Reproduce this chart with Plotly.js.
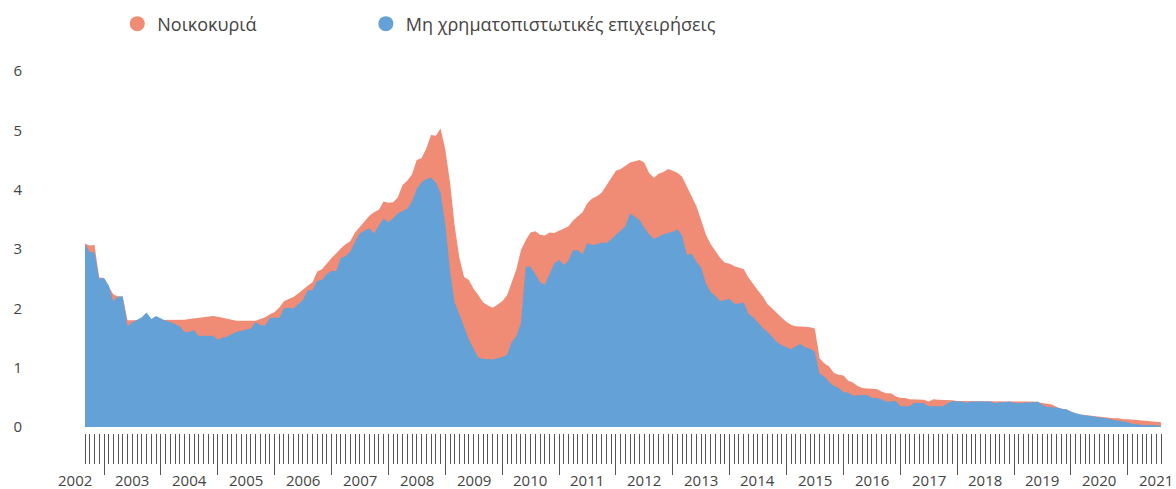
<!DOCTYPE html>
<html>
<head>
<meta charset="utf-8">
<script src="https://cdn.plot.ly/plotly-3.0.1.min.js"></script>
<style>
  html, body { margin: 0; padding: 0; background: #ffffff; }
  #chart { width: 1176px; height: 489px; }
</style>
</head>
<body>
<div id="chart"></div>
<script>
// Monthly series, first month September 2002
const startYear = 2002;
const startMonth = 9;

const seriesNames = ['Νοικοκυριά', 'Μη χρηματοπιστωτικές επιχειρήσεις'];

const households = [
  3.09, 3.06, 3.07, 2.52, 2.51, 2.38, 2.24, 2.20, 2.20, 1.80,
  1.80, 1.80, 1.80, 1.80, 1.80, 1.80, 1.80, 1.80, 1.80, 1.80,
  1.80, 1.81, 1.82, 1.83, 1.84, 1.86, 1.87, 1.87, 1.86, 1.84,
  1.82, 1.80, 1.79, 1.79, 1.79, 1.79, 1.79, 1.82, 1.85, 1.90,
  1.94, 2.02, 2.12, 2.16, 2.19, 2.25, 2.32, 2.38, 2.44, 2.62,
  2.66, 2.76, 2.85, 2.93, 3.01, 3.08, 3.13, 3.28, 3.37, 3.46,
  3.56, 3.62, 3.66, 3.80, 3.78, 3.79, 3.87, 4.08, 4.15, 4.26,
  4.50, 4.53, 4.70, 4.92, 4.91, 5.03, 4.67, 4.10, 3.40, 2.85,
  2.53, 2.48, 2.33, 2.22, 2.10, 2.05, 2.01, 2.06, 2.12, 2.22,
  2.42, 2.65, 2.98, 3.15, 3.28, 3.30, 3.24, 3.23, 3.28, 3.27,
  3.31, 3.35, 3.38, 3.48, 3.55, 3.62, 3.77, 3.85, 3.89, 3.95,
  4.07, 4.20, 4.32, 4.35, 4.41, 4.46, 4.48, 4.50, 4.46, 4.28,
  4.20, 4.27, 4.30, 4.35, 4.32, 4.28, 4.22, 4.06, 3.90, 3.72,
  3.49, 3.24, 3.08, 2.97, 2.85, 2.77, 2.75, 2.71, 2.69, 2.66,
  2.52, 2.40, 2.30, 2.20, 2.07, 2.00, 1.91, 1.84, 1.77, 1.72,
  1.70, 1.70, 1.69, 1.68, 1.66, 1.16, 1.07, 1.02, 0.91, 0.88,
  0.87, 0.78, 0.75, 0.69, 0.66, 0.65, 0.65, 0.64, 0.60, 0.57,
  0.57, 0.52, 0.49, 0.49, 0.47, 0.47, 0.47, 0.46, 0.43, 0.47,
  0.46, 0.46, 0.46, 0.45, 0.44, 0.44, 0.43, 0.44, 0.44, 0.44,
  0.44, 0.44, 0.43, 0.43, 0.43, 0.43, 0.43, 0.44, 0.43, 0.43,
  0.43, 0.42, 0.41, 0.40, 0.38, 0.34, 0.31, 0.30, 0.26, 0.23,
  0.21, 0.20, 0.20, 0.19, 0.18, 0.17, 0.16, 0.15, 0.15, 0.13,
  0.13, 0.13, 0.12, 0.11, 0.10, 0.09, 0.09, 0.08
];

const corporations = [
  3.09, 2.95, 2.94, 2.50, 2.51, 2.38, 2.12, 2.20, 2.20, 1.70,
  1.76, 1.81, 1.85, 1.93, 1.82, 1.87, 1.83, 1.79, 1.77, 1.74,
  1.70, 1.60, 1.60, 1.63, 1.53, 1.54, 1.54, 1.54, 1.47, 1.51,
  1.52, 1.57, 1.60, 1.62, 1.64, 1.66, 1.77, 1.72, 1.71, 1.84,
  1.84, 1.84, 2.00, 2.01, 2.00, 2.08, 2.14, 2.30, 2.31, 2.46,
  2.48, 2.58, 2.63, 2.63, 2.85, 2.88, 2.96, 3.12, 3.26, 3.31,
  3.35, 3.26, 3.40, 3.51, 3.45, 3.52, 3.60, 3.64, 3.68, 3.80,
  4.01, 4.12, 4.18, 4.20, 4.12, 3.95, 3.41, 2.60, 2.10, 1.90,
  1.69, 1.47, 1.32, 1.17, 1.15, 1.14, 1.14, 1.16, 1.18, 1.22,
  1.42, 1.53, 1.75, 2.70, 2.70, 2.58, 2.44, 2.40, 2.58, 2.75,
  2.82, 2.73, 2.80, 2.98, 2.98, 2.91, 3.10, 3.07, 3.08, 3.11,
  3.10, 3.16, 3.24, 3.31, 3.38, 3.60, 3.54, 3.49, 3.36, 3.25,
  3.17, 3.21, 3.25, 3.27, 3.29, 3.33, 3.22, 2.90, 2.92, 2.78,
  2.69, 2.42, 2.27, 2.21, 2.12, 2.14, 2.16, 2.08, 2.08, 2.10,
  1.91, 1.85, 1.76, 1.67, 1.60, 1.51, 1.43, 1.38, 1.34, 1.31,
  1.36, 1.40, 1.34, 1.32, 1.27, 0.90, 0.85, 0.76, 0.69, 0.66,
  0.59, 0.58, 0.53, 0.53, 0.53, 0.54, 0.49, 0.49, 0.47, 0.43,
  0.43, 0.44, 0.35, 0.35, 0.35, 0.41, 0.40, 0.40, 0.35, 0.35,
  0.34, 0.35, 0.40, 0.44, 0.43, 0.43, 0.41, 0.43, 0.43, 0.43,
  0.42, 0.43, 0.40, 0.42, 0.42, 0.43, 0.41, 0.40, 0.41, 0.41,
  0.42, 0.43, 0.37, 0.34, 0.34, 0.33, 0.31, 0.30, 0.26, 0.23,
  0.21, 0.20, 0.19, 0.18, 0.16, 0.15, 0.14, 0.12, 0.11, 0.10,
  0.08, 0.05, 0.04, 0.03, 0.03, 0.04, 0.03, 0.02
];

const yearLabels = ['2002','2003','2004','2005','2006','2007','2008','2009','2010','2011',
                    '2012','2013','2014','2015','2016','2017','2018','2019','2020','2021'];
const yTickValues = [0, 1, 2, 3, 4, 5, 6];

const colorHouseholds = '#F08B76';
const colorCorporations = '#63A1D6';
const textColor = '#444444';
const fontFamily = '"Open Sans", "Noto Sans", sans-serif';

function monthDate(i) {
  const t = (startMonth - 1) + i;
  const y = startYear + Math.floor(t / 12);
  const m = (t % 12) + 1;
  return y + '-' + String(m).padStart(2, '0') + '-01';
}
const dates = households.map((_, i) => monthDate(i));
const xStart = dates[0];
const xEnd = dates[dates.length - 1];

// position of a date along the (linear, millisecond based) date axis, as a fraction of the plot width
function dateFraction(d) {
  const t0 = Date.parse(xStart + 'T00:00:00Z');
  const t1 = Date.parse(xEnd + 'T00:00:00Z');
  return (Date.parse(d + 'T00:00:00Z') - t0) / (t1 - t0);
}

const traces = [
  {
    type: 'scatter', mode: 'lines', x: dates, y: households,
    fill: 'tozeroy', fillcolor: colorHouseholds,
    line: { width: 0, color: colorHouseholds },
    showlegend: false, hoverinfo: 'skip'
  },
  {
    type: 'scatter', mode: 'lines', x: dates, y: corporations,
    fill: 'tozeroy', fillcolor: colorCorporations,
    line: { width: 0, color: colorCorporations },
    showlegend: false, hoverinfo: 'skip'
  },
  {
    type: 'scatter', mode: 'markers', x: [null], y: [null],
    name: seriesNames[0], marker: { color: colorHouseholds, size: 15 },
    showlegend: true, legend: 'legend'
  },
  {
    type: 'scatter', mode: 'markers', x: [null], y: [null],
    name: seriesNames[1], marker: { color: colorCorporations, size: 15 },
    showlegend: true, legend: 'legend2'
  }
];

// year labels, centred on the middle of each year
const annotations = yearLabels.map(y => ({
  x: dateFraction(y + '-07-01'), xref: 'paper',
  y: -0.13, yref: 'paper',
  text: y, showarrow: false,
  xanchor: 'center', yanchor: 'middle',
  font: { family: fontFamily, size: 15, color: textColor }
}));

const legendCommon = {
  orientation: 'h', xanchor: 'left',
  yref: 'container', y: 0.951, yanchor: 'middle',
  font: { family: fontFamily, size: 18, color: textColor },
  bgcolor: 'rgba(0,0,0,0)'
};

const layout = {
  width: 1176, height: 489,
  margin: { l: 85, r: 15, t: 71, b: 56 },
  paper_bgcolor: '#ffffff', plot_bgcolor: '#ffffff',
  font: { family: fontFamily, size: 15, color: textColor },
  showlegend: true,
  legend: Object.assign({}, legendCommon, { x: 0.03 }),
  legend2: Object.assign({}, legendCommon, { x: 0.261 }),
  xaxis: {
    type: 'date',
    range: [xStart, xEnd],
    showgrid: false, zeroline: false, showline: false,
    ticks: 'outside', tick0: '2000-01-01', dtick: 'M12',
    ticklen: 41, tickwidth: 1, tickcolor: '#555555',
    showticklabels: false,
    minor: { ticks: 'outside', dtick: 'M1', tick0: '2000-01-01', ticklen: 30, tickwidth: 1, tickcolor: '#555555', showgrid: false }
  },
  yaxis: {
    range: [-0.1, 6.0],
    tickvals: yTickValues,
    ticktext: yTickValues.map(String),
    showgrid: false, zeroline: false, showline: false, ticks: '',
    ticklabelstandoff: 62,
    tickfont: { family: fontFamily, size: 15, color: textColor }
  },
  annotations: annotations
};

Plotly.newPlot('chart', traces, layout, { displayModeBar: false, staticPlot: true });
</script>
</body>
</html>
